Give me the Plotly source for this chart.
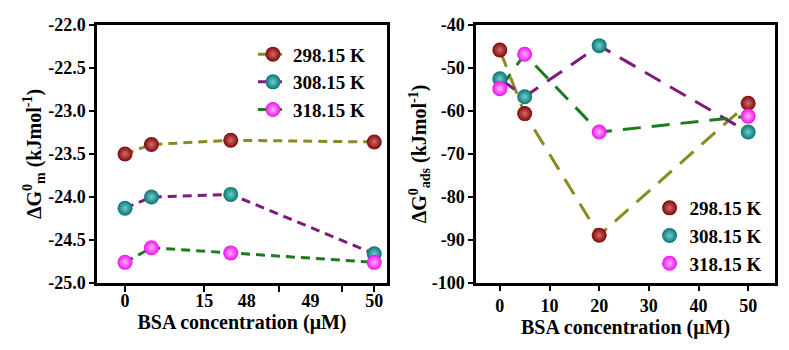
import plotly.graph_objects as go

# ---------------- data ----------------
conc = [0, 5, 20, 50]
temps = ["298.15 K", "308.15 K", "318.15 K"]

# Left panel: ΔG0_m (kJ/mol)
dgm_298 = [-23.50, -23.39, -23.34, -23.36]
dgm_308 = [-24.13, -24.00, -23.97, -24.66]
dgm_318 = [-24.76, -24.59, -24.65, -24.76]

# Right panel: ΔG0_ads (kJ/mol)
dgads_298 = [-45.8, -60.6, -88.9, -58.2]
dgads_308 = [-52.5, -56.7, -44.8, -64.9]
dgads_318 = [-54.8, -46.8, -64.9, -61.2]

left_x_labels = ["0", "15", "48", "49", "50"]
left_x_label_vals = [0, 15, 48, 49, 50]
left_x_tick_marks = [0, 15, 48.5, 49.5, 50]
left_y_vals = [-25.0, -24.5, -24.0, -23.5, -23.0, -22.5, -22.0]
left_y_labels = ["-25.0", "-24.5", "-24.0", "-23.5", "-23.0", "-22.5", "-22.0"]
right_x_vals = [0, 10, 20, 30, 40, 50]
right_x_labels = ["0", "10", "20", "30", "40", "50"]
right_y_vals = [-100, -90, -80, -70, -60, -50, -40]
right_y_labels = ["-100", "-90", "-80", "-70", "-60", "-50", "-40"]

# ---------------- style ----------------
line_colors = ["#8a8a1e", "#7d1a7d", "#1f7a1f"]
marker_colors = ["#7a0a0a", "#0b7373", "#f010f0"]
marker_centers = ["#d86a6a", "#6fd0cc", "#ffb0ff"]
FONT = "Liberation Serif"

# broken axis (left panel): left segment up to BREAK_LO, right segment from BREAK_HI
BREAK_LO = 22.2
BREAK_HI = 47.93
SCALE_HI = 12.05


def pos(x):
    return x if x <= BREAK_LO else BREAK_LO + (x - BREAK_HI) * SCALE_HI


def bold(labels):
    return ["<b>%s</b>" % s for s in labels]


fig = go.Figure()

left_series = [dgm_298, dgm_308, dgm_318]
right_series = [dgads_298, dgads_308, dgads_318]

for i, (name, ys) in enumerate(zip(temps, left_series)):
    fig.add_trace(go.Scatter(
        x=[pos(c) for c in conc], y=ys, name="<b>%s</b>" % name, mode="lines+markers",
        line=dict(color=line_colors[i], width=3, dash="9px,6px"),
        marker=dict(size=15, color=marker_colors[i], line=dict(width=0),
                    gradient=dict(type="radial", color=marker_centers[i])),
        xaxis="x", yaxis="y", legend="legend",
    ))

for i, (name, ys) in enumerate(zip(temps, right_series)):
    fig.add_trace(go.Scatter(
        x=conc, y=ys, mode="lines", showlegend=False,
        line=dict(color=line_colors[i], width=3, dash="18px,11px"),
        xaxis="x2", yaxis="y2",
    ))
for i, (name, ys) in enumerate(zip(temps, right_series)):
    fig.add_trace(go.Scatter(
        x=conc, y=ys, name="<b>%s</b>" % name, mode="markers",
        marker=dict(size=15, color=marker_colors[i], line=dict(width=0),
                    gradient=dict(type="radial", color=marker_centers[i])),
        xaxis="x2", yaxis="y2", legend="legend2",
    ))

tickfont = dict(family=FONT, size=18, color="black")
titlefont = dict(family=FONT, size=20, color="black")
axis_common = dict(showgrid=False, zeroline=False, showline=True, linecolor="black",
                   linewidth=2.5, mirror=True, tickwidth=2,
                   tickcolor="black", tickfont=tickfont, tickmode="array")

fig.update_layout(
    width=789, height=350,
    margin=dict(l=97, r=14, t=25, b=67),
    plot_bgcolor="white", paper_bgcolor="white",
    xaxis=dict(domain=[0, 0.4277], range=[-5.3, pos(50.2)],
               tickvals=[pos(v) for v in left_x_label_vals], ticktext=bold(left_x_labels),
               ticks="", ticklen=0,
               minor=dict(tickvals=[pos(v) for v in left_x_tick_marks], ticks="outside",
                          ticklen=6, tickwidth=2, tickcolor="black"),
               title=dict(text="<b>BSA concentration (μM)</b>", font=titlefont, standoff=3),
               anchor="y", **axis_common),
    yaxis=dict(domain=[0, 1], range=[-25, -22], tickvals=left_y_vals,
               ticktext=bold(left_y_labels), ticks="outside", ticklen=5,
               title=dict(text="<b>ΔG<sup>0</sup><sub>m</sub> (kJmol<sup>-1</sup>)</b>",
                          font=titlefont, standoff=2),
               anchor="x", **axis_common),
    xaxis2=dict(domain=[0.559, 1], range=[-4.8, 55.4], tickvals=right_x_vals,
                ticktext=bold(right_x_labels), ticks="outside", ticklen=5,
                title=dict(text="<b>BSA concentration (μM)</b>", font=titlefont, standoff=3),
                anchor="y2", **axis_common),
    yaxis2=dict(domain=[0, 1], range=[-100, -40], tickvals=right_y_vals,
                ticktext=bold(right_y_labels), ticks="outside", ticklen=5,
                title=dict(text="<b>ΔG<sup>0</sup><sub>ads</sub> (kJmol<sup>-1</sup>)</b>",
                           font=titlefont, standoff=0),
                anchor="x2", **axis_common),
    legend=dict(x=0.23, y=0.96, xanchor="left", yanchor="top",
                bgcolor="rgba(0,0,0,0)", tracegroupgap=0,
                font=dict(family=FONT, size=19, color="black")),
    legend2=dict(x=0.815, y=0.0, xanchor="left", yanchor="bottom",
                 bgcolor="rgba(0,0,0,0)", tracegroupgap=0,
                 font=dict(family=FONT, size=19, color="black")),
)

# break marks on the left panel's x axis
for yv in (0, 1):
    fig.add_annotation(x=pos(BREAK_LO + 0.1), y=yv, xref="x", yref="y domain",
                       text="<b>//</b>", showarrow=False,
                       font=dict(family=FONT, size=18, color="black"))

fig.write_html("out.html")
